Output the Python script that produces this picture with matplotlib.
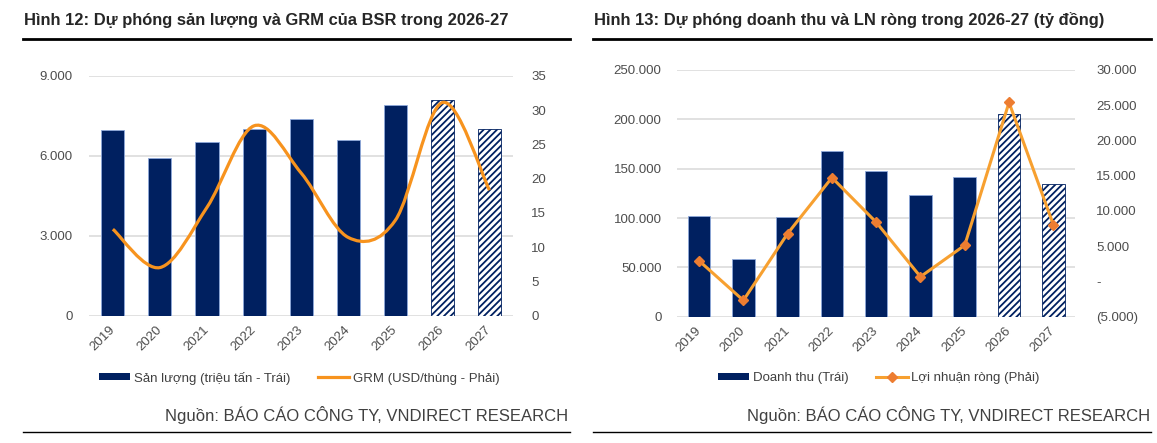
import matplotlib
matplotlib.use("Agg")
import matplotlib.pyplot as plt
from matplotlib.path import Path
from matplotlib.patches import PathPatch, Patch
from matplotlib.lines import Line2D
from matplotlib.ticker import FuncFormatter, MultipleLocator

# ============================================================
# Data
# ============================================================

YEARS = ["2019", "2020", "2021", "2022", "2023", "2024", "2025", "2026", "2027"]
FORECAST = [False, False, False, False, False, False, False, True, True]

# Hinh 12
OUTPUT = [6950, 5930, 6520, 7000, 7360, 6590, 7920, 8110, 7010]
GRM = [12.6, 7.0, 15.8, 27.7, 20.8, 11.4, 13.9, 31.1, 18.3]

# Hinh 13
REVENUE = [102500, 58300, 101200, 167500, 147200, 123200, 141500, 205800, 134700]
PROFIT = [2930, -2690, 6800, 14730, 8400, 670, 5140, 25400, 8070]

# ============================================================
# Style
# ============================================================

plt.rcParams["font.family"] = ["Liberation Sans", "DejaVu Sans"]
plt.rcParams["hatch.linewidth"] = 1.3

NAVY = "#002060"
EDGE = "#8EA9DB"
ORANGE = "#F7931E"
MARKER = "#ED7D31"
GRID = "#D9D9D9"
TICK = "#4D4D4D"
TEXT = "#404040"

fig = plt.figure(figsize=(11.57, 4.43), dpi=100)


def dot_thousands(v, pos=None):
    return f"{int(round(v)):,}".replace(",", ".")


def profit_fmt(v, pos=None):
    if abs(v) < 1e-9:
        return "-"
    if v < 0:
        return "(" + dot_thousands(-v) + ")"
    return dot_thousands(v)


def smooth_path(xs, ys):
    # Bezier spline through points, like the Excel "smoothed line"
    n = len(xs)
    verts = [(xs[0], ys[0])]
    codes = [Path.MOVETO]
    for i in range(n - 1):
        x0, y0 = xs[max(i - 1, 0)], ys[max(i - 1, 0)]
        x1, y1 = xs[i], ys[i]
        x2, y2 = xs[i + 1], ys[i + 1]
        x3, y3 = xs[min(i + 2, n - 1)], ys[min(i + 2, n - 1)]
        verts += [
            (x1 + (x2 - x0) / 6, y1 + (y2 - y0) / 6),
            (x2 - (x3 - x1) / 6, y2 - (y3 - y1) / 6),
            (x2, y2),
        ]
        codes += [Path.CURVE4] * 3
    return Path(verts, codes)


def draw_bars(ax, values, width):
    x = range(len(values))
    for i, v in zip(x, values):
        if FORECAST[i]:
            ax.bar(i, v, width=width, color="white", edgecolor=NAVY,
                   hatch="/////", linewidth=0.6, zorder=2)
        else:
            ax.bar(i, v, width=width, color=NAVY, edgecolor=EDGE,
                   linewidth=0.6, zorder=2)


def style_axes(ax, ax2):
    ax.set_xlim(-0.5, len(YEARS) - 0.5)
    ax.set_xticks(range(len(YEARS)))
    ax.set_xticklabels(YEARS, rotation=45, ha="right", va="center",
                       rotation_mode="anchor", fontsize=9.5, color=TICK)
    ax.grid(axis="y", color=GRID, linewidth=1.1, zorder=0)
    ax.set_axisbelow(True)
    for a in (ax, ax2):
        for s in a.spines.values():
            s.set_visible(False)
        a.tick_params(length=0, labelsize=9.5, labelcolor=TICK)
    ax.tick_params(axis="x", pad=9)


# ============================================================
# Hinh 12: San luong va GRM
# ============================================================

ax1 = fig.add_axes([0.0772, 0.2878, 0.3662, 0.5411])
ax1r = ax1.twinx()

draw_bars(ax1, OUTPUT, 0.49)
ax1.set_ylim(0, 9000)
ax1.yaxis.set_major_locator(MultipleLocator(3000))
ax1.yaxis.set_major_formatter(FuncFormatter(dot_thousands))
ax1.tick_params(axis="y", pad=12)

ax1r.set_ylim(0, 35)
ax1r.yaxis.set_major_locator(MultipleLocator(5))
ax1r.add_patch(PathPatch(smooth_path(list(range(len(GRM))), GRM),
                         facecolor="none", edgecolor=ORANGE,
                         linewidth=2.3, zorder=3))
ax1r.tick_params(axis="y", pad=13)
style_axes(ax1, ax1r)

ax1.legend(
    [Patch(facecolor=NAVY), Line2D([], [], color=ORANGE, linewidth=2.3)],
    ["Sản lượng (triệu tấn - Trái)", "GRM (USD/thùng - Phải)"],
    loc="center", bbox_to_anchor=(0.2584, 0.1467),
    bbox_transform=fig.transFigure, ncol=2, frameon=False,
    fontsize=9.5, labelcolor=TEXT, handlelength=2.4, handleheight=0.45,
    handletextpad=0.25, columnspacing=2.1,
)

# ============================================================
# Hinh 13: Doanh thu va LN rong
# ============================================================

ax2 = fig.add_axes([0.5851, 0.2851, 0.3444, 0.5569])
ax2r = ax2.twinx()

draw_bars(ax2, REVENUE, 0.51)
ax2.set_ylim(0, 250000)
ax2.yaxis.set_major_locator(MultipleLocator(50000))
ax2.yaxis.set_major_formatter(FuncFormatter(dot_thousands))
ax2.tick_params(axis="y", pad=11)

ax2r.plot(range(len(PROFIT)), PROFIT, color="#F7A030", linewidth=2.2,
          marker="D", markersize=5.5, markerfacecolor=MARKER,
          markeredgecolor=MARKER, zorder=3)
ax2r.set_ylim(-5000, 30000)
ax2r.yaxis.set_major_locator(MultipleLocator(5000))
ax2r.yaxis.set_major_formatter(FuncFormatter(profit_fmt))
ax2r.tick_params(axis="y", pad=15)
style_axes(ax2, ax2r)

ax2.legend(
    [Patch(facecolor=NAVY),
     Line2D([], [], color="#F7A030", linewidth=2.2, marker="D",
            markersize=5, markerfacecolor=MARKER, markeredgecolor=MARKER)],
    ["Doanh thu (Trái)", "Lợi nhuận ròng (Phải)"],
    loc="center", bbox_to_anchor=(0.7593, 0.1467),
    bbox_transform=fig.transFigure, ncol=2, frameon=False,
    fontsize=9.5, labelcolor=TEXT, handlelength=2.4, handleheight=0.45,
    handletextpad=0.25, columnspacing=2.1,
)

# ============================================================
# Titles, rules and sources
# ============================================================

W, H = 1157, 443

fig.text(24 / W, 1 - 25.5 / H,
         "Hình 12: Dự phóng sản lượng và GRM của BSR trong 2026-27",
         fontsize=11.9, fontweight="bold", color="#262626", va="baseline")
fig.text(594 / W, 1 - 25.5 / H,
         "Hình 13: Dự phóng doanh thu và LN ròng trong 2026-27 (tỷ đồng)",
         fontsize=11.9, fontweight="bold", color="#262626", va="baseline")

for x0, x1 in [(23, 570), (593, 1151)]:
    fig.add_artist(Line2D([x0 / W, x1 / W], [1 - 38.7 / H] * 2,
                          color="black", linewidth=2.0))
    fig.add_artist(Line2D([x0 / W, x1 / W], [1 - 432 / H] * 2,
                          color="black", linewidth=1.0))

for x in (568, 1150):
    fig.text(x / W, 1 - 421.5 / H,
             "Nguồn: BÁO CÁO CÔNG TY, VNDIRECT RESEARCH",
             fontsize=12, color=TEXT, ha="right", va="baseline")

fig.savefig("out.png", dpi=100)
